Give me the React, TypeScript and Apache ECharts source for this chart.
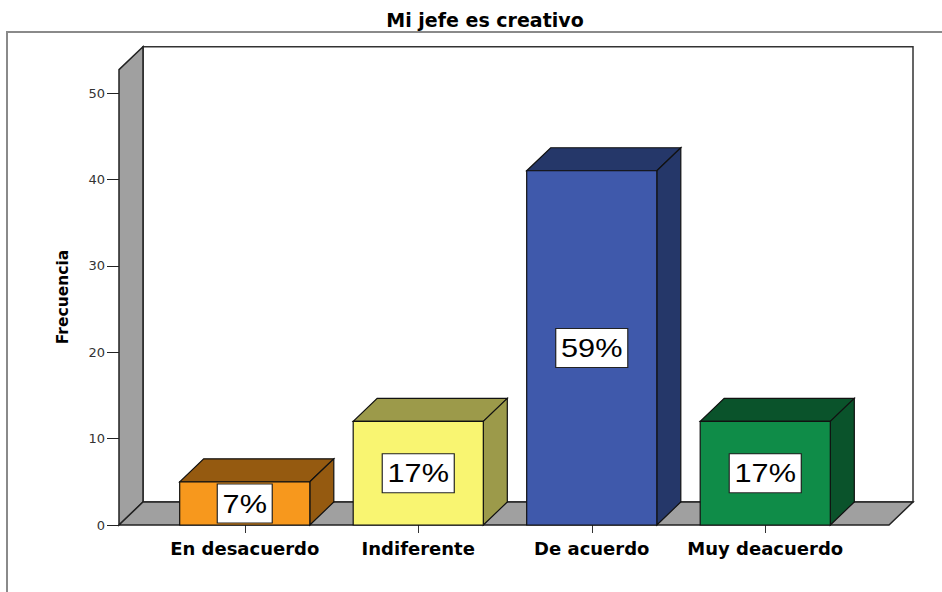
import React, { useEffect, useRef } from "react";
import * as echarts from "echarts";

const categories = ["En desacuerdo", "Indiferente", "De acuerdo", "Muy deacuerdo"];
const counts = [5, 12, 41, 12];
const percentLabels = ["7%", "17%", "59%", "17%"];
const frontColors = ["#F7981D", "#F9F571", "#3F59AB", "#0F8C48"];
const sideColors = ["#955A10", "#9C9A4A", "#253769", "#0A532B"];
const yTicks = [0, 10, 20, 30, 40, 50];

const WALL_TOP = 52.7;
const DX = 24;
const DY = -23;

export default function App() {
  const ref = useRef<HTMLDivElement>(null);
  useEffect(() => {
    document.body.style.margin = "0";
    const chart = echarts.init(ref.current!, null, { renderer: "svg" });
    const option: any = {
      animation: false,
      backgroundColor: "#fff",
      title: {
        text: "Mi jefe es creativo",
        left: 480,
        textAlign: "center",
        top: 5,
        textStyle: { fontFamily: "DejaVu Sans", fontWeight: "bold", fontSize: 19, color: "#000" },
      },
      graphic: [
        {
          type: "rect",
          shape: { x: 7, y: 32, width: 960, height: 600 },
          style: { fill: "none", stroke: "#8a8a8a", lineWidth: 2 },
          z: 0,
        },
        {
          type: "text",
          x: 63,
          y: 297,
          rotation: Math.PI / 2,
          style: {
            text: "Frecuencia",
            fontFamily: "DejaVu Sans",
            fontWeight: "bold",
            fontSize: 15.5,
            fill: "#000",
            align: "center",
            verticalAlign: "middle",
          },
        },
      ],
      grid: { left: 158, right: 90, top: 93, bottom: 67 },
      xAxis: {
        type: "category",
        data: categories,
        axisLine: { show: false },
        axisTick: { show: true, alignWithLabel: true, length: 8, lineStyle: { color: "#333" } },
        axisLabel: {
          interval: 0,
          margin: 14,
          fontFamily: "DejaVu Sans",
          fontWeight: "bold",
          fontSize: 18,
          color: "#000",
        },
      },
      yAxis: {
        type: "value",
        min: yTicks[0],
        max: yTicks[yTicks.length - 1],
        interval: 10,
        offset: 39,
        axisLine: { show: false },
        axisTick: { show: true, length: 12, lineStyle: { color: "#222" } },
        axisLabel: { margin: 14, fontFamily: "DejaVu Sans", fontSize: 13, color: "#333" },
        splitLine: { show: false },
      },
      series: [
        {
          type: "custom",
          z: 1,
          silent: true,
          data: [0],
          renderItem: (params: any, api: any) => {
            const cs = params.coordSys;
            const y0 = api.coord([0, 0])[1];
            const yTop = api.coord([0, WALL_TOP])[1];
            const LX = cs.x - 39;
            const RX = cs.x + cs.width + 37;
            const stroke = "#222";
            return {
              type: "group",
              children: [
                {
                  type: "rect",
                  shape: { x: LX + DX, y: yTop + DY, width: RX - LX, height: y0 - yTop },
                  style: { fill: "#fff", stroke: "#333", lineWidth: 1.5 },
                },
                {
                  type: "polygon",
                  shape: { points: [[LX, y0], [LX + DX, y0 + DY], [LX + DX, yTop + DY], [LX, yTop]] },
                  style: { fill: "#A0A0A0", stroke, lineWidth: 1.5 },
                },
                {
                  type: "polygon",
                  shape: { points: [[LX, y0], [RX, y0], [RX + DX, y0 + DY], [LX + DX, y0 + DY]] },
                  style: { fill: "#A0A0A0", stroke, lineWidth: 1.5 },
                },
              ],
            };
          },
        },
        {
          type: "custom",
          z: 2,
          data: counts.map((v, i) => [i, v]),
          renderItem: (params: any, api: any) => {
            const i = api.value(0);
            const v = api.value(1);
            const top = api.coord([i, v]);
            const base = api.coord([i, 0]);
            const band = api.size([1, 0])[0];
            const w = band * 0.75;
            const x0 = top[0] - w / 2;
            const x1 = top[0] + w / 2;
            const yT = top[1];
            const yB = base[1];
            const idx = params.dataIndex;
            const stroke = "#111";
            return {
              type: "group",
              children: [
                {
                  type: "polygon",
                  shape: { points: [[x0, yT], [x1, yT], [x1 + DX, yT + DY], [x0 + DX, yT + DY]] },
                  style: { fill: sideColors[idx], stroke, lineWidth: 1.2 },
                },
                {
                  type: "polygon",
                  shape: { points: [[x1, yT], [x1 + DX, yT + DY], [x1 + DX, yB + DY], [x1, yB]] },
                  style: { fill: sideColors[idx], stroke, lineWidth: 1.2 },
                },
                {
                  type: "rect",
                  shape: { x: x0, y: yT, width: w, height: yB - yT },
                  style: { fill: frontColors[idx], stroke, lineWidth: 1.2 },
                },
                {
                  type: "text",
                  x: top[0],
                  y: (yT + yB) / 2,
                  scaleX: 1.18,
                  style: {
                    text: percentLabels[idx],
                    fontFamily: "Liberation Sans",
                    fontSize: 26,
                    lineHeight: 27,
                    fill: "#000",
                    align: "center",
                    verticalAlign: "middle",
                    backgroundColor: "#fff",
                    borderColor: "#222",
                    borderWidth: 1,
                    padding: [6, 4, 5, 4],
                  },
                },
              ],
            };
          },
        },
      ],
    };
    chart.setOption(option);
    return () => chart.dispose();
  }, []);
  return <div ref={ref} style={{ position: "absolute", left: 0, top: 0, width: 942, height: 592 }} />;
}
